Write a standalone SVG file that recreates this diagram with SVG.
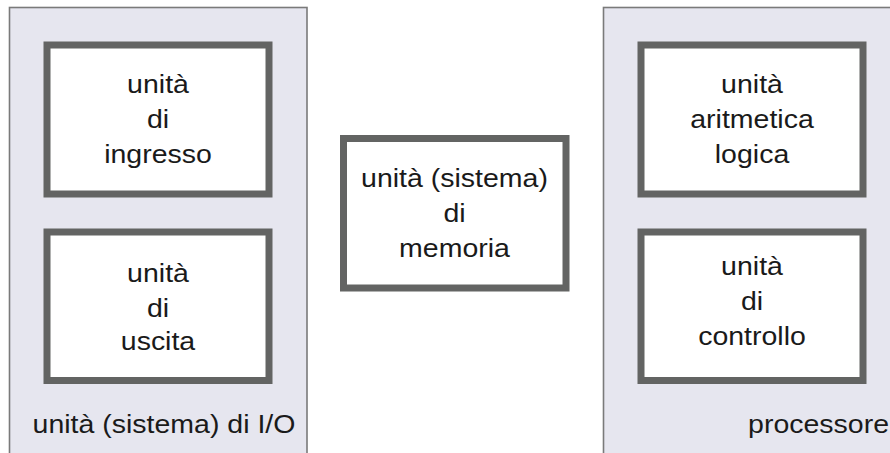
<svg xmlns="http://www.w3.org/2000/svg" width="890" height="453" viewBox="0 0 890 453">
<style>
.panel{fill:#e6e6ef;stroke:#7a7a7a;stroke-width:1.6}
.box{fill:#ffffff;stroke:#636463;stroke-width:7}
text{font-family:"Liberation Sans",Arial,sans-serif;font-size:25px;fill:#1a1a1a;text-anchor:middle}
</style>
<rect width="890" height="453" fill="#ffffff"/>
<g id="io-system">
<rect class="panel" x="9.5" y="7.5" width="297.5" height="460"/>
<text transform="matrix(1.14 0 0 1 164 433)">unità (sistema) di I/O</text>
</g>
<g id="processor">
<rect class="panel" x="603.5" y="7.5" width="300" height="460"/>
<text transform="matrix(1.14 0 0 1 889 433)" style="text-anchor:end">processore</text>
</g>
<g id="input-unit">
<rect class="box" x="47" y="45" width="222" height="149"/>
<text transform="matrix(1.14 0 0 1 158 93)">unità</text>
<text transform="matrix(1.14 0 0 1 158 128)">di</text>
<text transform="matrix(1.14 0 0 1 158 163)">ingresso</text>
</g>
<g id="output-unit">
<rect class="box" x="47" y="232" width="222" height="148.5"/>
<text transform="matrix(1.14 0 0 1 158 281.5)">unità</text>
<text transform="matrix(1.14 0 0 1 158 316.5)">di</text>
<text transform="matrix(1.14 0 0 1 158 350)">uscita</text>
</g>
<g id="memory-unit">
<rect class="box" x="343.5" y="138.5" width="222.5" height="149.5"/>
<text transform="matrix(1.14 0 0 1 454.5 186.5)">unità (sistema)</text>
<text transform="matrix(1.14 0 0 1 454.5 221.5)">di</text>
<text transform="matrix(1.14 0 0 1 454.5 256.5)">memoria</text>
</g>
<g id="alu">
<rect class="box" x="641" y="45" width="222" height="149"/>
<text transform="matrix(1.14 0 0 1 752 93)">unità</text>
<text transform="matrix(1.14 0 0 1 752 128)">aritmetica</text>
<text transform="matrix(1.14 0 0 1 752 163)">logica</text>
</g>
<g id="control-unit">
<rect class="box" x="641" y="232" width="222" height="148.5"/>
<text transform="matrix(1.14 0 0 1 752 274.5)">unità</text>
<text transform="matrix(1.14 0 0 1 752 309.5)">di</text>
<text transform="matrix(1.14 0 0 1 752 344.5)">controllo</text>
</g>
<g id="connectors"/>
</svg>
